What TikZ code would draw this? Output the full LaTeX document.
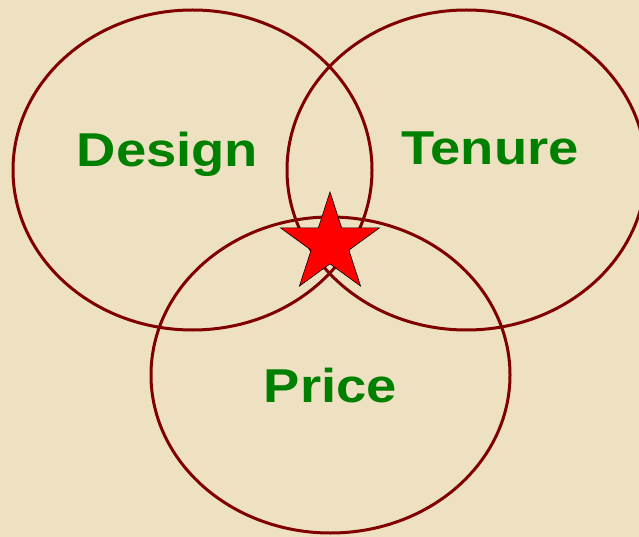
\documentclass[tikz,border=0pt]{standalone}
\usepackage{fontspec}
\newfontfamily\vennfont{Liberation Sans}
\usepackage{graphicx}
\usepackage{tikz}
\usetikzlibrary{shapes.geometric, positioning}

\definecolor{parchment}{RGB}{237,225,194}
\definecolor{ringred}{RGB}{128,0,0}
\definecolor{labelgreen}{RGB}{0,128,0}

\newcommand{\widelabel}[1]{\scalebox{1.145}[1]{#1}}

\begin{document}
\begin{tikzpicture}[
    x=1pt, y=-1pt,
    ring/.style={
        ellipse,
        minimum width=359pt,
        minimum height=320pt,
        inner sep=0pt,
        draw=ringred, line width=3pt
    },
    setlabel/.style={
        anchor=base, inner sep=0pt,
        text=labelgreen,
        font=\vennfont\bfseries\fontsize{47.5}{50}\selectfont
    },
    centrestar/.style={
        star, star points=5, star point ratio=2.618,
        minimum size=104pt, inner sep=0pt,
        fill=red, draw=black, line width=0.6pt
    },
]

% Canvas
\useasboundingbox (0,0) rectangle (639,537);
\clip (0,0) rectangle (639,537);
\fill[parchment] (0,0) rectangle (639,537);

% Rings
\node (designring) [ring] at (192.5,170) {};
\node (tenurering) [ring] at (466.5,170) {};
\node (pricering) [ring, minimum height=316pt] at (330.5,375) {};

% Labels
\node (design) [setlabel] at (167.5,167) {\widelabel{Design}};
\node (tenure) [setlabel] at (490,165) {\widelabel{Tenure}};
\node (price) [setlabel] at (330.5,402) {\widelabel{Price}};

% Star
\node (sweetspot) [centrestar] at (330,244) {};

\end{tikzpicture}
\end{document}
